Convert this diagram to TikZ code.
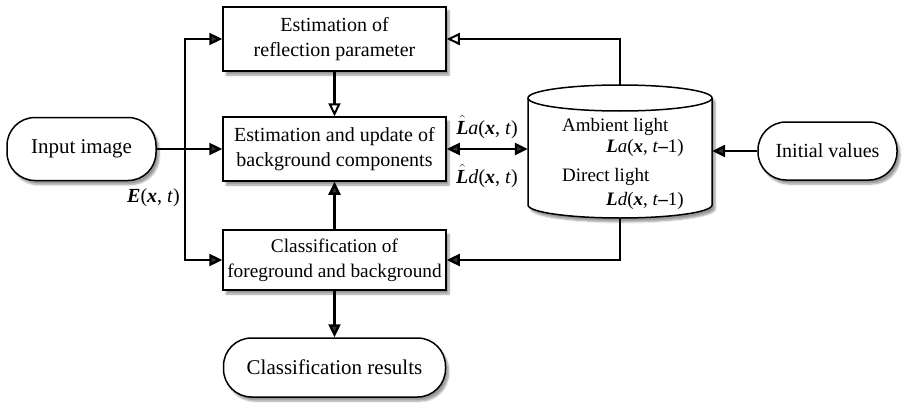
\documentclass[tikz,border=0pt]{standalone}
\usepackage{fontspec}
\setmainfont{Liberation Serif}
\usetikzlibrary{arrows.meta,shadows.blur}

\newcommand{\bi}[1]{\textbf{\textit{#1}}}

\begin{document}
\begin{tikzpicture}[x=1pt,y=-1pt,
  font=\fontsize{20}{25}\selectfont,
  softshadow/.style={blur shadow={shadow xshift=3pt, shadow yshift=-4pt,
      shadow blur steps=6, shadow opacity=40}},
  box/.style={draw, line width=1.5pt, fill=white, align=center, inner sep=0pt, softshadow},
  term/.style={box, rounded corners=28pt},
  conn/.style={line width=2.4pt, line join=miter},
  tip/.tip={Triangle[length=13pt,width=12pt]},
  otip/.tip={Triangle[length=13pt,width=12pt,fill=white,line width=2pt]},
  fa/.style={-tip},
  oa/.style={-otip},
  lbl/.style={inner sep=0pt},
]
\useasboundingbox (0,0) rectangle (907,404);

% process boxes
\node[box, minimum width=223pt, minimum height=64pt] (refl) at (334.5,39)
  {Estimation of\\reflection parameter};
\node[box, minimum width=223pt, minimum height=64pt] (upd) at (334.5,149)
  {Estimation and update of\\background components};
\node[box, minimum width=223pt, minimum height=60pt,
      font=\fontsize{19.3}{25}\selectfont] (cls) at (334.5,260)
  {Classification of\\foreground and background};

% terminals
\node[term, minimum width=222pt, minimum height=59pt,
      font=\fontsize{21}{25}\selectfont] (res) at (334.5,367.5) {Classification results};
\node[term, minimum width=149pt, minimum height=63pt,
      font=\fontsize{21}{25}\selectfont] (in) at (81.5,149) {Input image};
\node[term, minimum width=139pt, minimum height=58pt] (init) at (827.5,151) {Initial values};

% light database (cylinder)
\node[minimum width=184pt, minimum height=133pt, inner sep=0pt] (db) at (620,151.5) {};
\path[draw, line width=1.5pt, fill=white, softshadow]
  (528,98) -- (528,205)
  arc[start angle=180, end angle=360, x radius=92pt, y radius=13pt]
  -- (712,98)
  arc[start angle=0, end angle=180, x radius=92pt, y radius=13pt] -- cycle;
\draw[line width=1.5pt] (528,98)
  arc[start angle=180, end angle=360, x radius=92pt, y radius=13pt];

\begin{scope}[font=\fontsize{19}{22}\selectfont]
\node[lbl, anchor=west] (amb) at (562,127) {Ambient light};
\node[lbl, anchor=east] (la) at (684,148) {\bi{L}\textit{a}(\bi{x}, \textit{t}\textbf{–}1)};
\node[lbl, anchor=west] (dir) at (562,177) {Direct light};
\node[lbl, anchor=east] (ld) at (684,201) {\bi{L}\textit{d}(\bi{x}, \textit{t}\textbf{–}1)};
\end{scope}

% connector labels
\node[lbl] (lahat) at (487,127) {$\hat{\hbox{\bi{L}}}$\textit{a}(\bi{x}, \textit{t})};
\node[lbl] (ldhat) at (487,176) {$\hat{\hbox{\bi{L}}}$\textit{d}(\bi{x}, \textit{t})};
\node[lbl, anchor=east] (elbl) at (180,198) {\bi{E}(\bi{x}, \textit{t})};

% connectors
\coordinate (split) at (185,149);
\draw[conn, fa] (in.east) -- (upd.west);
\draw[conn, tip-tip] (refl.west) -| (split) |- (cls.west);
\draw[conn, oa] (refl.south) -- (upd.north);
\draw[conn, fa] (cls.north) -- (upd.south);
\draw[conn, fa] (cls.south) -- (res.north);
\draw[conn, oa] (db.north) |- (refl.east);
\draw[conn, fa] (db.south) |- (cls.east);
\draw[conn, tip-tip] (upd.east) -- (upd.east -| db.west);
\draw[conn, fa] (init.west) -- (init.west -| db.east);
\end{tikzpicture}
\end{document}
